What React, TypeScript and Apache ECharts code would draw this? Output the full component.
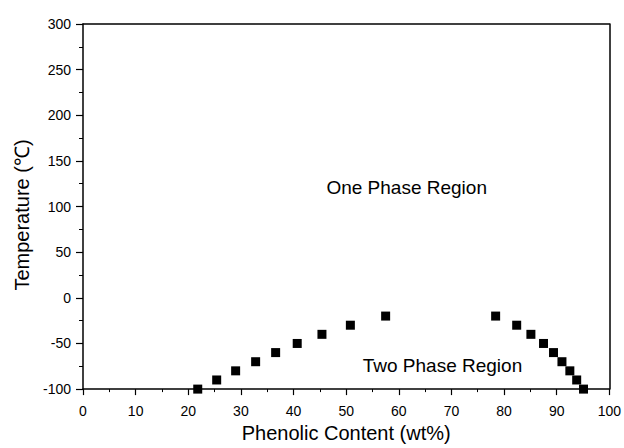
import React, { useEffect, useRef } from "react";
import * as echarts from "echarts";

const leftBranchX = [21.8, 25.4, 29.0, 32.8, 36.6, 40.7, 45.4, 50.8, 57.5];
const leftBranchY = [-100, -90, -80, -70, -60, -50, -40, -30, -20];
const rightBranchX = [78.4, 82.4, 85.1, 87.5, 89.4, 91.0, 92.5, 93.8, 95.1];
const rightBranchY = [-20, -30, -40, -50, -60, -70, -80, -90, -100];

const xName = "Phenolic Content (wt%)";
const yName = "Temperature (℃)";
const regionLabels = ["One Phase Region", "Two Phase Region"];
const regionPos = [
  [61.5, 120.5],
  [68.3, -73.8],
];

export default function App() {
  const ref = useRef<HTMLDivElement>(null);
  useEffect(() => {
    const chart = echarts.init(ref.current!, null, { renderer: "svg" });
    const pts = [
      ...leftBranchX.map((x, i) => [x, leftBranchY[i]]),
      ...rightBranchX.map((x, i) => [x, rightBranchY[i]]),
    ];
    const font = "Liberation Sans";
    chart.setOption({
      animation: false,
      backgroundColor: "#ffffff",
      textStyle: { fontFamily: font },
      grid: { left: 83, right: 14, top: 24, bottom: 58 },
      graphic: [
        {
          type: "text",
          x: 22,
          y: 215,
          rotation: Math.PI / 2,
          style: {
            text: yName,
            fontSize: 20,
            fontFamily: font,
            fill: "#000",
            align: "center",
            verticalAlign: "middle",
          },
        },
      ],
      xAxis: [
        {
          type: "value",
          min: 0,
          max: 100,
          interval: 10,
          name: xName,
          nameLocation: "middle",
          nameGap: 31,
          nameTextStyle: { fontSize: 20, color: "#000", fontFamily: font },
          axisLine: { show: true, onZero: false, lineStyle: { color: "#000", width: 1.5 } },
          axisTick: { show: true, length: 6, lineStyle: { color: "#000", width: 1.2 } },
          minorTick: { show: true, splitNumber: 2, length: 3, lineStyle: { color: "#000", width: 1 } },
          axisLabel: { fontSize: 14, color: "#000", margin: 15, fontFamily: font },
          splitLine: { show: false },
        },
        {
          type: "value",
          position: "top",
          min: 0,
          max: 100,
          axisLine: { show: true, onZero: false, lineStyle: { color: "#000", width: 1.5 } },
          axisTick: { show: false },
          axisLabel: { show: false },
          splitLine: { show: false },
        },
      ],
      yAxis: [
        {
          type: "value",
          min: -100,
          max: 300,
          interval: 50,
          axisLine: { show: true, onZero: false, lineStyle: { color: "#000", width: 1.5 } },
          axisTick: { show: true, length: 7, lineStyle: { color: "#000", width: 1.2 } },
          minorTick: { show: true, splitNumber: 2, length: 4, lineStyle: { color: "#000", width: 1 } },
          axisLabel: { fontSize: 14, color: "#000", margin: 12, fontFamily: font },
          splitLine: { show: false },
        },
        {
          type: "value",
          position: "right",
          min: -100,
          max: 300,
          axisLine: { show: true, onZero: false, lineStyle: { color: "#000", width: 1.5 } },
          axisTick: { show: false },
          axisLabel: { show: false },
          splitLine: { show: false },
        },
      ],
      series: [
        {
          type: "scatter",
          xAxisIndex: 0,
          yAxisIndex: 0,
          symbol: "rect",
          symbolSize: 9,
          itemStyle: { color: "#000", opacity: 1 },
          data: pts,
        },
        {
          type: "scatter",
          xAxisIndex: 0,
          yAxisIndex: 0,
          symbolSize: 0,
          silent: true,
          itemStyle: { color: "#000", opacity: 1 },
          data: regionPos.map((p, i) => ({ value: p, name: regionLabels[i] })),
          label: {
            show: true,
            position: "inside",
            formatter: (p: any) => p.name,
            fontSize: 19,
            color: "#000",
            opacity: 1,
            textBorderWidth: 0,
            fontFamily: font,
          },
        },
      ],
    });
    return () => chart.dispose();
  }, []);
  return (
    <div
      ref={ref}
      style={{ position: "fixed", left: 0, top: 0, width: 624, height: 448 }}
    />
  );
}
